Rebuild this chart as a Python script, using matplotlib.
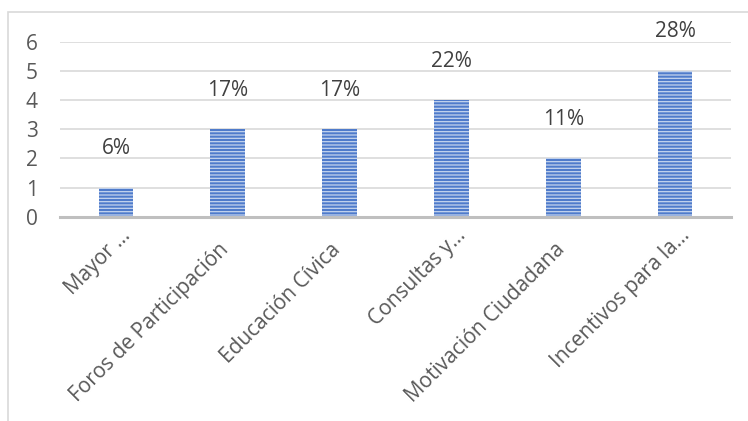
import matplotlib
matplotlib.use("Agg")
import matplotlib.pyplot as plt
from matplotlib.patches import Rectangle
import matplotlib.transforms as mtransforms

categories = ["Mayor …", "Foros de Participación", "Educación Cívica",
              "Consultas y…", "Motivación Ciudadana", "Incentivos para la…"]
values = [1, 3, 3, 4, 2, 5]
pct_labels = ["6%", "17%", "17%", "22%", "11%", "28%"]
yticks = [0, 1, 2, 3, 4, 5, 6]

plt.rcParams['font.family'] = ['Open Sans', 'DejaVu Sans']
plt.rcParams['hatch.linewidth'] = 0.9

FS = 15
fig = plt.figure(figsize=(7.48, 4.21), dpi=100)
ax = fig.add_axes([60/748, 1-216.7/421, (731-60)/748, (216.7-41.5)/421])

x = list(range(len(categories)))
ax.bar(x, values, width=0.31, color='#4F7BCB', edgecolor='#C5D4EE',
       linewidth=0, hatch='-----', zorder=3)

for xi, v, lab in zip(x, values, pct_labels):
    ax.annotate(lab, (xi, v), xytext=(0, 28), textcoords='offset points',
                ha='center', va='center', fontsize=FS, color='#404040')

ax.set_xlim(-0.5, len(categories)-0.5)
ax.set_ylim(0, 6)
ax.set_yticks(yticks)
ax.set_yticklabels([str(t) for t in yticks], fontsize=FS, color='#595959')
ax.tick_params(axis='y', length=0, pad=16)
ax.tick_params(axis='x', length=0, pad=0)
ax.set_xticks(x)
ax.set_xticklabels(categories, rotation=45, ha='right', va='baseline',
                   rotation_mode='anchor', fontsize=FS, color='#595959')
for t in ax.get_xticklabels():
    if t.get_text().endswith('…'):
        dx, dy = 15.5, 19.5
    else:
        dx, dy = 2, 34
    off = mtransforms.ScaledTranslation(dx/100, -dy/100, fig.dpi_scale_trans)
    t.set_transform(ax.get_xaxis_transform() + off)

ax.grid(axis='y', color='#D9D9D9', linewidth=1.2, zorder=0)
for s in ['top', 'right', 'left']:
    ax.spines[s].set_visible(False)
ax.spines['bottom'].set_color('#BFBFBF')
ax.spines['bottom'].set_linewidth(2.2)
ax.spines['bottom'].set_zorder(4)

fig.patches.append(Rectangle((8/748, -0.5), 2, 1.5 - 12/421, transform=fig.transFigure,
                             fill=False, edgecolor='#D9D9D9', linewidth=1.2))

fig.savefig('out.png', dpi=100)
